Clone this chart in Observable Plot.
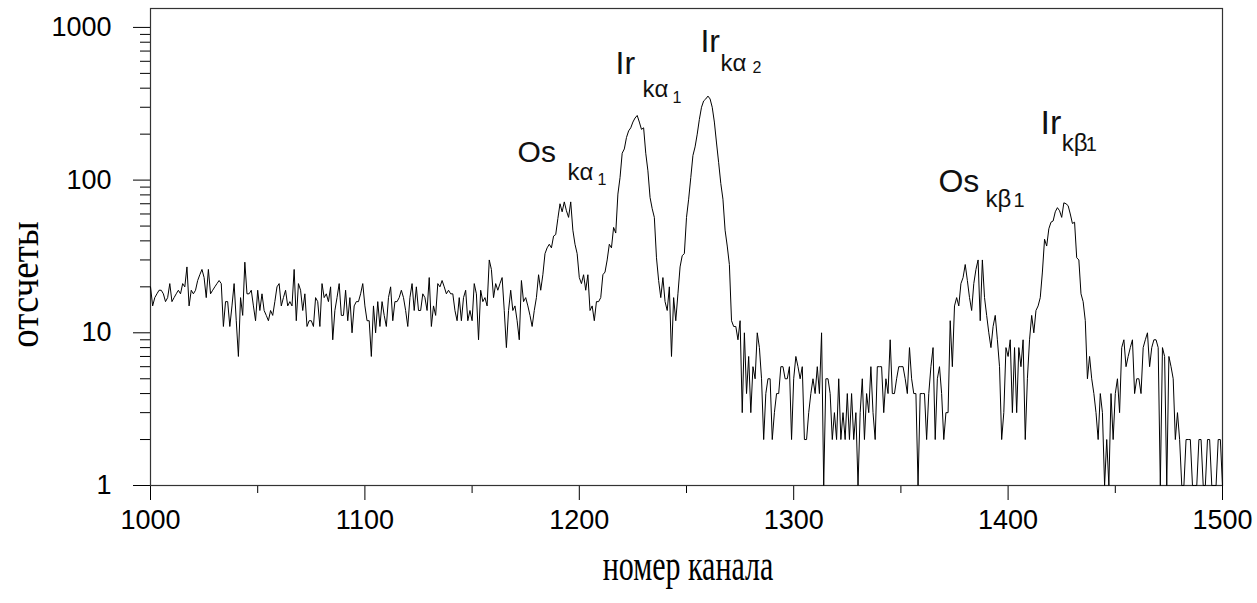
<!DOCTYPE html>
<html>
<head>
<meta charset="utf-8">
<script src="https://cdn.jsdelivr.net/npm/d3@7"></script>
<script src="https://cdn.jsdelivr.net/npm/@observablehq/plot@0.6"></script>
<style>
  html, body { margin: 0; padding: 0; background: #fff; }
  #chart svg { display: block; }
</style>
</head>
<body>
<div id="chart"></div>
<script>
// ---------- data ----------
const startChannel = 1000;
// counts per channel, 1000 .. 1500
const counts = [
  // 1000-1123
  20,15,17,18,19,19,18,16,17,21,
  16,17,18,19,18,21,20,27,15,19,
  18,19,22,24,26,23,17,26,18,19,
  20,21,22,21,11,16,16,11,15,21,
  12,7,17,13,29,18,18,19,15,12,
  19,14,18,14,13,12,14,13,16,20,
  21,15,17,19,15,16,15,26,12,21,
  19,14,18,11,12,12,11,17,16,11,
  21,17,18,16,20,9,14,17,21,13,
  13,19,12,17,10,15,16,16,18,21,
  15,12,12,7,15,10,16,11,16,13,
  11,17,20,12,16,16,17,19,17,14,
  11,17,21,14,
  // 1124-1247
  20,14,14,18,17,14,23,11,15,13,
  21,20,22,20,18,19,18,18,14,12,
  17,12,17,19,12,14,12,21,18,9,
  19,16,17,15,30,26,17,21,19,21,
  23,14,8,14,19,14,15,12,9,22,
  16,17,15,13,11,14,17,24,19,24,
  33,36,38,36,43,44,56,70,62,72,
  63,57,72,47,38,33,23,21,24,19,
  24,14,15,12,16,16,17,24,25,30,
  38,36,49,45,81,104,150,160,190,210,
  220,240,255,265,240,215,220,150,115,77,
  65,57,31,22,17,23,16,14,20,7,
  17,12,18,27,
  // 1248-1371
  32,33,57,75,104,145,165,200,250,300,
  330,340,355,340,300,240,175,130,95,75,
  47,37,28,12,11,11,9,12,3,10,
  4,7,3,6,5,10,8,5,2,4,
  5,5,2,3,4,4,6,6,5,5,
  6,2,5,7,6,5,6,2,2,3,
  4,5,4,6,4,10,1,5,5,4,
  2,3,2,5,2,3,2,4,2,4,
  2,3,1,3,5,2,4,3,6,3,
  2,6,6,6,3,5,4,9,4,4,
  5,6,6,6,5,4,8,5,4,4,
  1,4,4,4,2,4,6,8,2,5,
  6,4,2,3,
  // 1372-1500
  3,12,6,15,17,15,21,23,28,22,
  17,14,21,26,30,12,30,17,13,10,
  8,11,13,9,6,2,3,8,7,9,
  3,8,3,8,6,9,2,5,9,13,
  10,14,15,17,25,41,37,48,53,54,
  62,66,63,57,71,70,68,60,52,53,
  31,30,18,16,12,5,7,5,4,3,
  2,4,3,1,2,1,4,2,4,5,
  3,8,9,6,7,8,9,4,5,5,
  4,8,9,10,6,8,9,9,8,1,
  8,7,1,7,6,5,2,3,2,1,
  1,2,2,2,1,1,1,2,2,1,
  1,2,2,1,1,1,2,2,1
];

const xMajorTicks = [1000, 1100, 1200, 1300, 1400, 1500];
const xMinorTicks = [1050, 1150, 1250, 1350, 1450];
const yMajorTicks = [1, 10, 100, 1000];
const yMinorTicks = [2,3,4,5,6,7,8,9,20,30,40,50,60,70,80,90,200,300,400,500,600,700,800,900];

const xTitle = "номер канала";
const yTitle = "отсчеты";

// peak annotations: element, line, index, anchored at (channel, count)
const peakElement = ["Os", "Ir", "Ir", "Os", "Ir"];
const peakLine    = ["kα", "kα", "kα", "kβ", "kβ"];
const peakIndex   = ["1", "1", "2", "1", "1"];
const peakElementChannel = [1171.2, 1216.9, 1256.5, 1367.5, 1415.1];
const peakElementCount   = [151, 580, 800, 97, 235];
const peakLineChannel    = [1194.5, 1229.5, 1265.9, 1389.5, 1425.0];
const peakLineCount      = [113, 391, 578, 74.4, 175];
const peakIndexChannel   = [1208.5, 1243.5, 1280.8, 1402.5, 1436.2];
const peakIndexCount     = [99.6, 348, 540, 72.9, 172];

// ---------- build ----------
const spectrum = counts.map((c, i) => ({channel: startChannel + i, count: c}));
const elementLabels = peakElement.map((t, i) => ({t, x: peakElementChannel[i], y: peakElementCount[i], s: i === 0 ? 30 : (i === 4 ? 34 : 32)}));
const lineLabels = peakLine.map((t, i) => ({t, x: peakLineChannel[i], y: peakLineCount[i]}));
const indexLabels = peakIndex.map((t, i) => ({t, x: peakIndexChannel[i], y: peakIndexCount[i], s: i >= 3 ? 20 : 16}));

const sans = "'Liberation Sans', Arial, sans-serif";
const serif = "'Liberation Serif', 'Times New Roman', serif";

const chart = Plot.plot({
  width: 1257,
  height: 603,
  marginLeft: 150,
  marginRight: 35,
  marginTop: 8,
  marginBottom: 118,
  style: {fontFamily: sans, fontSize: "27px", color: "#000", background: "#fff"},
  x: {domain: [1000, 1500]},
  y: {type: "log", domain: [1, 1330]},
  marks: [
    Plot.axisX({ticks: xMinorTicks, tickSize: 8, tickFormat: () => "", label: null}),
    Plot.axisX({ticks: xMajorTicks, tickSize: 15, tickPadding: 9, tickFormat: d => String(d), label: null, fontSize: 27}),
    Plot.axisY({ticks: yMinorTicks, tickSize: 10, tickFormat: () => "", label: null}),
    Plot.axisY({ticks: yMajorTicks, tickSize: 17, tickPadding: 22, tickFormat: d => String(d), label: null, fontSize: 27}),
    Plot.frame({stroke: "#333", strokeWidth: 1.2}),
    Plot.line(spectrum, {x: "channel", y: "count", stroke: "#000", strokeWidth: 1}),
    Plot.text(elementLabels, {x: "x", y: "y", text: "t", fontSize: d => d.s, textAnchor: "start", fontFamily: sans, fill: "#111"}),
    Plot.text(lineLabels, {x: "x", y: "y", text: "t", fontSize: 24, textAnchor: "start", fontFamily: sans, fill: "#111"}),
    Plot.text(indexLabels, {x: "x", y: "y", text: "t", fontSize: d => d.s, textAnchor: "start", fontFamily: sans, fill: "#111"})
  ]
});

// axis titles in tall serif lettering, placed relative to the plot's own scale ranges
const xr = chart.scale("x").range, yr = chart.scale("y").range;
const svg = d3.select(chart);
const frameBottom = Math.max(yr[0], yr[1]);
const frameMidY = (yr[0] + yr[1]) / 2;
svg.append("text")
  .attr("transform", `translate(${(xr[0] + xr[1]) / 2 + 2},${frameBottom + 95}) scale(1,1.45)`)
  .attr("text-anchor", "middle")
  .attr("font-family", serif)
  .attr("font-size", 30)
  .attr("fill", "#000")
  .text(xTitle);
svg.append("text")
  .attr("transform", `translate(${xr[0] - 112},${frameMidY + 38}) rotate(-90) scale(1,1.15)`)
  .attr("text-anchor", "middle")
  .attr("font-family", serif)
  .attr("font-size", 37)
  .attr("fill", "#000")
  .text(yTitle);

document.getElementById("chart").appendChild(chart);
</script>
</body>
</html>
